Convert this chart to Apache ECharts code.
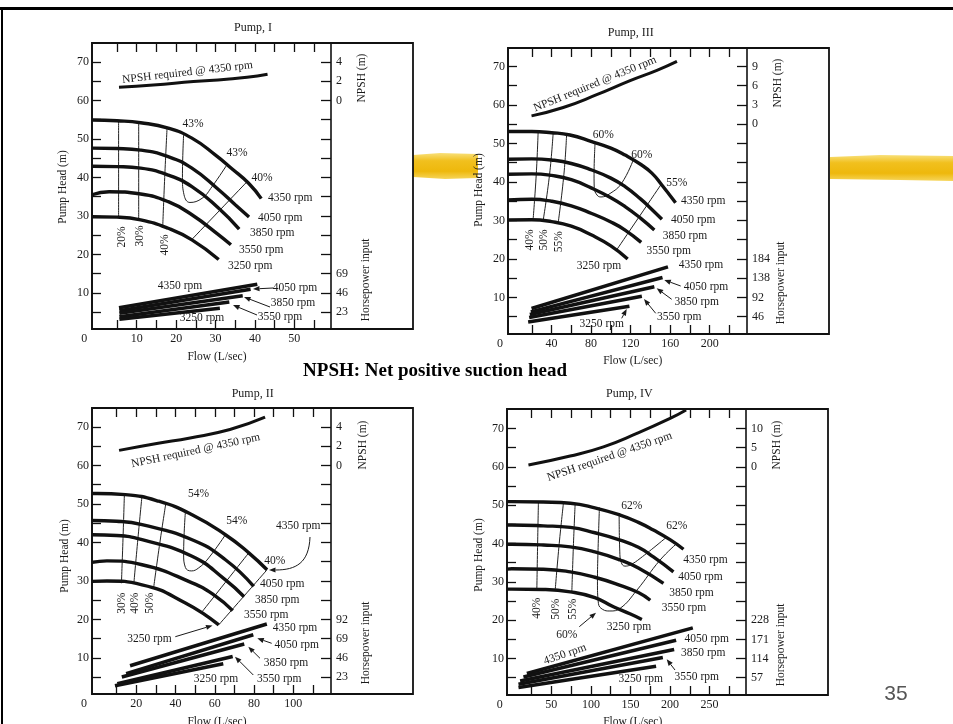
<!DOCTYPE html>
<html><head><meta charset="utf-8">
<script src="https://cdn.jsdelivr.net/npm/echarts@6/dist/echarts.min.js"></script>
<style>html,body{margin:0;padding:0;background:#fff}#c{width:953px;height:724px}</style>
</head><body><div id="c"></div>
<script>
// ---------------- DATA ----------------
const rpmNames = ['4350 rpm', '4050 rpm', '3850 rpm', '3550 rpm', '3250 rpm'];
const pumpTitles = ['Pump, I', 'Pump, II', 'Pump, III', 'Pump, IV'];
const npshCaption = 'NPSH required @ 4350 rpm';
const pageCaption = 'NPSH: Net positive suction head';
const pageNumber = '35';
const axisNames = { head: 'Pump Head (m)', flow: 'Flow (L/sec)', npsh: 'NPSH (m)', hp: 'Horsepower input' };

// tick labels
const headTickLabels = [10, 20, 30, 40, 50, 60, 70];
const headMinorTicks = [5, 10, 15, 20, 25, 30, 35, 40, 45, 50, 55, 60, 65, 70];
const flowLabelsI = [0, 10, 20, 30, 40, 50];
const flowLabelsII = [0, 20, 40, 60, 80, 100];
const flowLabelsIII = [0, 40, 80, 120, 160, 200];
const flowLabelsIV = [0, 50, 100, 150, 200, 250];
const flowTicksI = [5, 10, 15, 20, 25, 30, 35, 40, 45, 50, 55];
const flowTicksII = [10, 20, 30, 40, 50, 60, 70, 80, 90, 100, 110];
const flowTicksIII = [20, 40, 60, 80, 100, 120, 140, 160, 180, 200, 220];
const flowTicksIV = [25, 50, 75, 100, 125, 150, 175, 200, 225, 250, 275];
const npshLabelsI = [0, 2, 4];
const npshLabelsII = [0, 2, 4];
const npshLabelsIII = [0, 3, 6, 9];
const npshLabelsIV = [0, 5, 10];
const hpLabelsI = [23, 46, 69];
const hpLabelsII = [23, 46, 69, 92];
const hpLabelsIII = [46, 92, 138, 184];
const hpLabelsIV = [57, 114, 171, 228];

// efficiency labels
const effLabelsI = ['20%', '30%', '40%', '43%', '43%', '40%'];
const effLabelsII = ['30%', '40%', '50%', '54%', '54%', '40%'];
const effLabelsIII = ['40%', '50%', '55%', '60%', '60%', '55%'];
const effLabelsIV = ['40%', '50%', '55%', '62%', '62%', '60%'];

// Pump I : [flow L/s, head m] per rpm (4350..3250)
const pumpIHead = [
  [[-1.35,54.9],[5,54.7],[11,54.2],[18,52.8],[24,50.2],[30,45.8],[34,42.4],[38.4,38.5],[41.6,34.5]],
  [[-1.35,47.6],[5,47.5],[11,47.1],[18,45.4],[24,42.4],[30.8,36.8],[35,32.9],[38.5,29.7]],
  [[-1.35,42.9],[5,42.8],[11,42.4],[18,40.6],[24,37.6],[30.8,32],[36,26.6]],
  [[-1.35,35.5],[3,36.3],[11,35.7],[18,33.7],[24,30.3],[30.8,25.1],[33.9,22.5]],
  [[-1.35,29.8],[5,29.7],[11,29],[18,26.8],[24,23.8],[30.8,18.7]]
];
const pumpIEff = [
  [[5.4,54.7],[5.4,42],[5.4,29.7]],
  [[10.5,54.3],[10.5,42],[10.5,29.1]],
  [[17.7,52.9],[17.1,40],[16.6,27.3]],
  [[21.9,51.1],[21.6,40],[22,35.5],[23.5,33.5],[26.6,34.6],[29.1,37.6],[32.9,43.3]],
  [[38,38.9],[24,23.9]]
];
const pumpIPower = [   // [flow, horsepower]
  [[5.5,28.4],[40.6,56.4]],
  [[5.6,24.9],[38.9,50.4]],
  [[5.6,21.7],[36.9,42.8]],
  [[5.6,17.7],[33.5,35.2]],
  [[5.6,14.6],[31.1,27.7]]
];
const pumpINpsh = [[5.5,1.37],[14.2,1.6],[24.4,1.95],[32.8,2.2],[38,2.4],[43.2,2.72]];

// Pump II
const pumpIIHead = [
  [[-2.6,52.7],[0,52.7],[14.4,52.4],[31.4,50.7],[48.4,47.2],[65.4,42],[77.3,37.3],[86.6,32.9]],
  [[-2.6,45.7],[10,45.5],[22.9,44.6],[48.4,40.7],[65.4,35.5],[79.8,28.6]],
  [[-2.6,42],[10,41.8],[22.9,40.7],[48.4,36.4],[65.4,30.3],[74.9,25.9]],
  [[-2.6,34.8],[5,35.2],[22.9,34.2],[48.4,29.5],[60,26.2],[69.1,22.3]],
  [[-2.6,29.9],[5,30],[22.9,29],[45,24.3],[62,18.6]]
];
const pumpIIEff = [
  [[13.9,52.4],[13.2,41],[12.4,29.4]],
  [[22.9,52.2],[20.8,41],[18.7,29.2]],
  [[35.1,50.4],[32,40],[28.8,28.2]],
  [[45,48],[44.1,37],[45,33.5],[48,32.6],[51.8,33.4],[56.9,36],[65.4,42]],
  [[77.3,37.3],[53.5,22]],
  [[86.6,32.9],[62,18.6]]
];
const pumpIIPower = [
  [[16.8,36.8],[86.5,86.6]],
  [[14.8,27.3],[79.6,73.8]],
  [[12.6,23.3],[75,62.7]],
  [[10.3,15.3],[69.1,47.9]],
  [[9.1,12.9],[64.3,39.2]]
];
const pumpIINpsh = [[11.2,1.56],[30.4,2.27],[47.4,2.85],[67.7,3.72],[85.6,5.0]];

// Pump III
const pumpIIIHead = [
  [[-4,53.1],[20,53.1],[40,52.8],[58.6,52.2],[80.6,50.5],[100,48.8],[114.4,47],[130,44.6],[141.5,42.3],[151,39.4],[165.5,34.6]],
  [[-4,45.9],[20,46],[40,45.7],[60,44.8],[80.6,43.1],[100,41],[114.4,38.8],[130,35.6],[141,33],[151.7,30.3]],
  [[-4,42],[20,42.1],[40,41.7],[60,40.6],[80.6,38.4],[100,35.9],[114.4,33.6],[130,30.6],[144,27.5]],
  [[-4,35.3],[20,35.5],[40,35],[60,33.8],[80.6,31.8],[100,29.6],[114.4,27.5],[130.7,24.3]],
  [[-4,30.1],[20,30.2],[40,29.7],[60,28.5],[80.6,26.2],[100,23.4],[117,20]]
];
const pumpIIIEff = [
  [[26.4,53],[24.5,42],[21.3,30.2]],
  [[41.6,52.7],[38,42],[31.5,30]],
  [[55.2,52.2],[52.5,42],[46.7,29.4]],
  [[84,50],[83,42],[83.2,38.5],[86,36.6],[90,36.1],[99.2,37],[111,39.7],[122.8,45.8]],
  [[151,39.4],[106,22.4]]
];
const pumpIIIPower = [
  [[19.7,65.6],[157.8,165]],
  [[19,57.5],[152.3,139.8]],
  [[18,51.2],[144,117.3]],
  [[17.3,44],[131.4,95]],
  [[16.3,33.5],[118.8,71.1]]
];
const pumpIIINpsh = [[19.7,1.3],[51.8,2.6],[85.7,4.6],[119.5,6.8],[146.6,8.4],[166.9,9.8]];

// Pump IV
const pumpIVHead = [
  [[-6,50.9],[0,50.9],[40,50.8],[74,50.5],[105,49.3],[137,47.4],[160,45.5],[179,43.5],[200,41],[217,38.5]],
  [[-6,44.8],[0,44.8],[40,44.6],[74,44.2],[105,42.8],[137,40.9],[160,39],[179,36.5],[204.3,32.6]],
  [[-6,39.8],[0,39.8],[40,39.6],[74,39.1],[105,37.8],[137,35.7],[160,33.6],[191.7,29.6]],
  [[-6,33.3],[0,33.4],[40,33.3],[74,32.6],[105,31.2],[137,29.1],[160,27.2],[175,25.2]],
  [[-6,28.1],[0,28.1],[40,28],[74,27.4],[105,25.9],[128.5,23.5],[150,21.6],[164.4,20.2]]
];
const pumpIVEff = [
  [[33.7,50.8],[32.7,40],[31.7,28]],
  [[65.3,50.5],[60,40],[54.8,27.6]],
  [[80.1,50.3],[78,40],[75.9,27.3]],
  [[110.8,49.4],[109,38],[108.3,30],[109.5,24.4],[115,22.8],[124,22.4],[137,23.1],[158,27.8],[187.5,35.7],[208.6,40]],
  [[135.7,47.5],[136.5,38],[138.5,35],[143,34.1],[149.6,34.4],[162.2,36.1],[195.9,41.7]]
];
const pumpIVPower = [
  [[19.1,69.6],[228.8,205.2]],
  [[14.8,59.5],[207.7,168.7]],
  [[10.6,47.6],[205.2,141]],
  [[8.5,37.8],[190.9,117.2]],
  [[8.5,27.9],[182.4,91.3]]
];
const pumpIVNpsh = [[21.1,0.45],[73.8,2.8],[115.9,5.2],[158.1,8.7],[200.1,12.6],[220.3,14.8]];

// ---------------- LAYOUT ----------------
const FONT = "'Liberation Serif', 'Times New Roman', serif";
const INK = '#1a1a1a';

const panels = [
  { // Pump I
    title: pumpTitles[0], head: pumpIHead, eff: pumpIEff, power: pumpIPower, npsh: pumpINpsh,
    effLabels: effLabelsI, flowLabels: flowLabelsI, flowTicks: flowTicksI, npshLabels: npshLabelsI, hpLabels: hpLabelsI,
    box: { l: 92, t: 43, w: 239, h: 286, r2: 413 }, x: [-1.35, 59.3], y: [0.65, 74.9],
    h0: 60, kN: 0.4, kH: 4.6, zeroShift: 13,
    titlePos: [253, 28],
    namePos: { head: [63, 187], flow: [217, 357], npsh: [361.7, 78], hp: [365.7, 280] },
    headLab: [[268, 198, 'left'], [258, 218, 'left'], [250, 233, 'left'], [239, 250, 'left'], [228, 266, 'left']],
    headArrows: [], curved: null,
    powLab: [[180, 286, 0], [295, 288, 0], [293, 303, 0], [280, 317, 0], [202, 318, 0]],
    powArrows: [[273, 288, 253, 289], [270, 307, 244, 297], [257, 315, 233, 305]],
    effPos: [[122, 237, 90], [140, 236, 90], [164.7, 245, 90], [193, 124, 0], [237, 153, 0], [262, 178, 0]],
    extraArrows: [],
    npshPos: [187.5, 72.5, 6.5]
  },
  { // Pump II
    title: pumpTitles[1], head: pumpIIHead, eff: pumpIIEff, power: pumpIIPower, npsh: pumpIINpsh,
    effLabels: effLabelsII, flowLabels: flowLabelsII, flowTicks: flowTicksII, npshLabels: npshLabelsII, hpLabels: hpLabelsII,
    box: { l: 92, t: 408, w: 239, h: 286, r2: 413 }, x: [-2.6, 119.2], y: [0.65, 74.9],
    h0: 60, kN: 0.4, kH: 4.6, zeroShift: 13,
    titlePos: [252.7, 394],
    namePos: { head: [65, 556], flow: [217, 722], npsh: [363.3, 445], hp: [365.7, 643] },
    headLab: [[298.3, 525.7, 'center'], [260, 584.3, 'left'], [255, 600, 'left'], [244, 614.5, 'left'], [149.5, 639.3, 'center']],
    headArrows: [[175.3, 636.7, 212.5, 625.5]],
    curved: [310, 537, 309, 563, 296, 570, 269, 570],
    powLab: [[295, 627.7, 0], [296.7, 645, 0], [286, 662.7, 0], [279.3, 679, 0], [216, 679, 0]],
    powArrows: [[271.7, 643.3, 257.3, 638.3], [260, 658.3, 248.3, 646.7], [253.3, 675, 235, 656.7]],
    effPos: [[122, 603.3, 90], [135.3, 603.3, 90], [150.3, 603.3, 90], [198.5, 494, 0], [236.7, 520.7, 0], [274.7, 561, 0]],
    extraArrows: [],
    npshPos: [195.7, 450.7, 12]
  },
  { // Pump III
    title: pumpTitles[2], head: pumpIIIHead, eff: pumpIIIEff, power: pumpIIIPower, npsh: pumpIIINpsh,
    effLabels: effLabelsIII, flowLabels: flowLabelsIII, flowTicks: flowTicksIII, npshLabels: npshLabelsIII, hpLabels: hpLabelsIII,
    box: { l: 508, t: 48, w: 239, h: 286, r2: 829 }, x: [-4.1, 237.8], y: [0.5, 74.8],
    h0: 55, kN: 0.6, kH: 9.2, zeroShift: 12,
    titlePos: [630.7, 33.3],
    namePos: { head: [479, 190], flow: [632.7, 360.7], npsh: [778.3, 83], hp: [780.7, 283] },
    headLab: [[681, 201, 'left'], [671, 220, 'left'], [662.7, 235.5, 'left'], [646.5, 250.5, 'left'], [599, 266, 'center']],
    headArrows: [], curved: null,
    powLab: [[701, 265, 0], [706, 287.3, 0], [696.7, 301.7, 0], [679.3, 316.7, 0], [601.7, 324, 0]],
    powArrows: [[680.7, 286, 664.3, 280], [671.7, 299.3, 656.7, 288.3], [655.7, 313.3, 644, 299], [621.7, 318.3, 626.7, 309]],
    effPos: [[530, 240, 90], [544, 240, 90], [559.3, 241.7, 90], [603.3, 135, 0], [641.7, 155, 0], [676.7, 182.7, 0]],
    extraArrows: [],
    npshPos: [595, 84, 22]
  },
  { // Pump IV
    title: pumpTitles[3], head: pumpIVHead, eff: pumpIVEff, power: pumpIVPower, npsh: pumpIVNpsh,
    effLabels: effLabelsIV, flowLabels: flowLabelsIV, flowTicks: flowTicksIV, npshLabels: npshLabelsIV, hpLabels: hpLabelsIV,
    box: { l: 507, t: 409, w: 239, h: 286, r2: 828 }, x: [-6, 296], y: [0.5, 75.06],
    h0: 60, kN: 1, kH: 11.4, zeroShift: 12,
    titlePos: [629.3, 394],
    namePos: { head: [479, 555], flow: [632.7, 722], npsh: [777.3, 445], hp: [780.7, 645] },
    headLab: [[683.3, 560, 'left'], [678.3, 577.3, 'left'], [669.3, 592.7, 'left'], [661.7, 607.7, 'left'], [629, 627, 'center']],
    headArrows: [], curved: null,
    powLab: [[565, 654.3, 19], [706.7, 639, 0], [703.3, 652.7, 0], [696.7, 677.3, 0], [640.7, 679.3, 0]],
    powArrows: [[675, 670, 666.7, 659.3]],
    effPos: [[536.7, 608.3, 90], [556, 609.3, 90], [572.7, 609.3, 90], [631.7, 506, 0], [676.7, 526, 0], [566.7, 635, 0]],
    extraArrows: [[579.3, 626.7, 596, 612.7]],
    npshPos: [609.7, 456.7, 19]
  }
];

// ---------------- BUILD ----------------
function txt(s, x, y, o) {
  o = o || {};
  const al = o.align || 'center';
  return { type: 'text', x: x, y: y, rotation: (o.rot || 0) * Math.PI / 180, z: 100, silent: true,
    style: { text: s, fill: o.color || INK, fontSize: o.size || 11.5, fontFamily: o.family || FONT,
      fontWeight: o.weight || 'normal', align: al, verticalAlign: 'middle', textAlign: al, textVerticalAlign: 'middle' } };
}
function arrowHead(x2, y2, a) {
  const L = 6.5, W = 2.6;
  const bx = x2 - L * Math.cos(a), by = y2 - L * Math.sin(a);
  return { bx: bx, by: by, el: { type: 'polygon', z: 95, silent: true,
    shape: { points: [[x2, y2], [bx + W * Math.sin(a), by - W * Math.cos(a)], [bx - W * Math.sin(a), by + W * Math.cos(a)]] },
    style: { fill: INK } } };
}
function arrow(x1, y1, x2, y2) {
  const h = arrowHead(x2, y2, Math.atan2(y2 - y1, x2 - x1));
  return [{ type: 'line', z: 95, silent: true, shape: { x1: x1, y1: y1, x2: h.bx, y2: h.by }, style: { stroke: INK, lineWidth: 1 } }, h.el];
}
function curvedArrow(c) {
  const h = arrowHead(c[6], c[7], Math.atan2(c[7] - c[5], c[6] - c[4]));
  return [{ type: 'bezierCurve', z: 95, silent: true,
    shape: { x1: c[0], y1: c[1], cpx1: c[2], cpy1: c[3], cpx2: c[4], cpy2: c[5], x2: h.bx, y2: h.by },
    style: { stroke: INK, lineWidth: 1, fill: 'none' } }, h.el];
}

const grids = [], xAxes = [], yAxes = [], series = [], graphics = [];
const labelStyle = { color: INK, fontSize: 12, fontFamily: FONT };

// slide decorations
graphics.push({ type: 'rect', z: 1, silent: true, shape: { x: 0, y: 7, width: 953, height: 3 }, style: { fill: '#000' } });
graphics.push({ type: 'rect', z: 1, silent: true, shape: { x: 1, y: 7, width: 2, height: 717 }, style: { fill: '#000' } });
const gold = new echarts.graphic.LinearGradient(0, 0, 0, 1, [
  { offset: 0, color: '#f8e07a' }, { offset: 0.3, color: '#f1c01e' }, { offset: 0.7, color: '#eeb80c' }, { offset: 1, color: '#f6d55a' }]);
graphics.push({ type: 'polygon', z: 0, silent: true, shape: { points: [[413, 155], [440, 153], [478, 154], [478, 178], [445, 179], [413, 177]] }, style: { fill: gold } });
graphics.push({ type: 'polygon', z: 0, silent: true, shape: { points: [[830, 157], [880, 155], [953, 156], [953, 181], [900, 180], [830, 179]] }, style: { fill: gold } });
graphics.push(txt(pageCaption, 435, 371, { size: 19, weight: 'bold', color: '#000' }));
graphics.push(txt(pageNumber, 896, 694, { size: 21, family: "'Liberation Sans', Arial, sans-serif", color: '#555' }));

panels.forEach(function (p, i) {
  const b = p.box;
  grids.push({ left: b.l, top: b.t, width: b.w, height: b.h, show: false, containLabel: false });
  const axLine = { show: true, onZero: false, lineStyle: { color: '#111', width: 1.6 } };
  const tickStyle = { color: '#111', width: 1.3 };
  xAxes.push({ gridIndex: i, type: 'value', position: 'bottom', min: p.x[0], max: p.x[1],
    axisLine: axLine, splitLine: { show: false },
    axisTick: { show: true, inside: true, length: 9, customValues: p.flowTicks, lineStyle: tickStyle },
    axisLabel: Object.assign({ show: true, customValues: p.flowLabels, margin: 4,
      formatter: function (v) { return v === 0 ? '{z|0}' : String(v); },
      rich: { z: Object.assign({ padding: [0, 2 * p.zeroShift, 0, 0] }, labelStyle) } }, labelStyle) });
  xAxes.push({ gridIndex: i, type: 'value', position: 'top', min: p.x[0], max: p.x[1],
    axisLine: axLine, splitLine: { show: false }, axisLabel: { show: false },
    axisTick: { show: true, inside: true, length: 9, customValues: p.flowTicks, lineStyle: tickStyle } });
  yAxes.push({ gridIndex: i, type: 'value', position: 'left', min: p.y[0], max: p.y[1],
    axisLine: axLine, splitLine: { show: false },
    axisTick: { show: true, inside: true, length: 9, customValues: headMinorTicks, lineStyle: tickStyle },
    axisLabel: Object.assign({ show: true, customValues: headTickLabels, margin: 3 }, labelStyle) });
  yAxes.push({ gridIndex: i, type: 'value', position: 'right',
    min: (p.y[0] - p.h0) * p.kN, max: (p.y[1] - p.h0) * p.kN,
    axisLine: axLine, splitLine: { show: false },
    axisTick: { show: true, inside: true, length: 10, customValues: headMinorTicks.map(function (h) { return (h - p.h0) * p.kN; }), lineStyle: tickStyle },
    axisLabel: Object.assign({ show: true, customValues: p.npshLabels, margin: 5 }, labelStyle) });
  yAxes.push({ gridIndex: i, type: 'value', position: 'right',
    min: p.y[0] * p.kH, max: p.y[1] * p.kH,
    axisLine: { show: false }, axisTick: { show: false }, splitLine: { show: false },
    axisLabel: Object.assign({ show: true, customValues: p.hpLabels, margin: 5 }, labelStyle) });

  const xi = 2 * i, yi = 3 * i;
  p.head.forEach(function (d, k) {
    series.push({ type: 'line', name: p.title + ' ' + rpmNames[k], xAxisIndex: xi, yAxisIndex: yi, data: d,
      smooth: 0.5, symbol: 'none', silent: true, z: 5,
      lineStyle: { color: '#111', width: 3.4, cap: 'butt' } });
  });
  p.eff.forEach(function (d) {
    series.push({ type: 'line', xAxisIndex: xi, yAxisIndex: yi, data: d, smooth: 0.45, symbol: 'none', silent: true, z: 4,
      lineStyle: { color: '#222', width: 1 } });
  });
  p.power.forEach(function (d, k) {
    series.push({ type: 'line', name: p.title + ' HP ' + rpmNames[k], xAxisIndex: xi, yAxisIndex: yi + 2, data: d,
      symbol: 'none', silent: true, z: 5, lineStyle: { color: '#111', width: 3.6, cap: 'butt' } });
  });
  series.push({ type: 'line', name: p.title + ' NPSH', xAxisIndex: xi, yAxisIndex: yi + 1, data: p.npsh,
    smooth: 0.5, symbol: 'none', silent: true, z: 5, lineStyle: { color: '#111', width: 3, cap: 'butt' } });

  // frame
  graphics.push({ type: 'rect', z: 50, silent: true, shape: { x: b.l, y: b.t, width: b.r2 - b.l, height: b.h },
    style: { fill: 'none', stroke: '#111', lineWidth: 1.8 } });
  // texts
  graphics.push(txt(p.title, p.titlePos[0], p.titlePos[1], { size: 12 }));
  graphics.push(txt(axisNames.head, p.namePos.head[0], p.namePos.head[1], { rot: 90 }));
  graphics.push(txt(axisNames.flow, p.namePos.flow[0], p.namePos.flow[1]));
  graphics.push(txt(axisNames.npsh, p.namePos.npsh[0], p.namePos.npsh[1], { rot: 90 }));
  graphics.push(txt(axisNames.hp, p.namePos.hp[0], p.namePos.hp[1], { rot: 90 }));
  p.headLab.forEach(function (q, k) { graphics.push(txt(rpmNames[k], q[0], q[1], { align: q[2] })); });
  p.powLab.forEach(function (q, k) { graphics.push(txt(rpmNames[k], q[0], q[1], { rot: q[2] })); });
  p.effPos.forEach(function (q, k) { graphics.push(txt(p.effLabels[k], q[0], q[1], { rot: q[2] })); });
  graphics.push(txt(npshCaption, p.npshPos[0], p.npshPos[1], { rot: p.npshPos[2] }));
  p.powArrows.concat(p.headArrows, p.extraArrows).forEach(function (a) {
    arrow(a[0], a[1], a[2], a[3]).forEach(function (e) { graphics.push(e); });
  });
  if (p.curved) curvedArrow(p.curved).forEach(function (e) { graphics.push(e); });
});

const chart = echarts.init(document.getElementById('c'), null, { renderer: 'canvas' });
chart.setOption({
  backgroundColor: '#fff',
  animation: false,
  grid: grids, xAxis: xAxes, yAxis: yAxes, series: series,
  graphic: { elements: graphics }
});
</script></body></html>
